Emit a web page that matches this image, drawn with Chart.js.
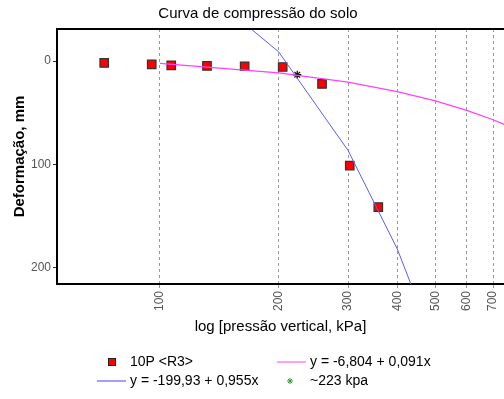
<!DOCTYPE html>
<html>
<head>
<meta charset="utf-8">
<script src="https://cdn.jsdelivr.net/npm/chart.js@4"></script>
<style>
    body { margin: 0; background: #fff; }
</style>
</head>
<body>
<canvas id="grafico" width="504" height="399"></canvas>
<script>
var FONTE = "'Liberation Sans', Arial, sans-serif";

// ensaio 10P <R3>: pressao vertical (kPa) x deformacao (mm)
var PRESSAO = [72.2, 95.3, 106.8, 131.6, 164, 204.8, 257.7, 303, 358];
var DEFORMACAO = [1.9, 3.2, 4.2, 4.8, 5.1, 5.8, 22.2, 101.3, 141.5];

// retas de ajuste, amostradas nas pressoes da grade
var PRESSAO_RETA = [100, 200, 300, 400, 500, 600, 700, 800];
var RETA_INICIAL = [2.3, 11.4, 20.5, 29.6, 38.7, 47.8, 56.9, 66.0];
var RETA_VIRGEM = [-104.4, -8.9, 86.6, 182.1, 277.6];

// ponto de encontro das retas (~223 kPa)
var PRE_ADENSAMENTO = [{ x: 223, y: 13.3 }];

var TICKS_X = [100, 200, 300, 400, 500, 600, 700];
var TICKS_Y = [0, 100, 200];

var Cores = { "vermelho": '#ff0000', 'magenta': '#ff40ff', 'azul': '#5c5cff', 'verde': '#2e9e2e' };

function pontos(xs, ys) {
    return ys.map(function (y, i) { return { x: xs[i], y: y }; });
}

// moldura superior e legenda em duas colunas
var legendaSolo = {
    id: 'legendaSolo',
    afterDraw: function (chart) {
        var ctx = chart.ctx;
        var area = chart.chartArea;
        var ds = chart.data.datasets;
        ctx.save();
        ctx.strokeStyle = '#000';
        ctx.lineWidth = 2;
        ctx.beginPath();
        ctx.moveTo(area.left, area.top);
        ctx.lineTo(area.right, area.top);
        ctx.stroke();

        ctx.font = '14px ' + FONTE;
        ctx.fillStyle = '#000';
        ctx.textBaseline = 'middle';

        // 10P <R3>
        ctx.fillStyle = Cores.vermelho;
        ctx.strokeStyle = '#222';
        ctx.lineWidth = 1;
        ctx.fillRect(108.5, 358.5, 7, 7);
        ctx.strokeRect(108.5, 358.5, 7, 7);
        ctx.fillStyle = '#000';
        ctx.fillText(ds[3].label, 130, 362);

        // reta inicial
        ctx.strokeStyle = '#ff80ff';
        ctx.lineWidth = 1.5;
        ctx.beginPath();
        ctx.moveTo(277, 362);
        ctx.lineTo(306, 362);
        ctx.stroke();
        ctx.fillText(ds[0].label, 310, 362);

        // reta virgem
        ctx.strokeStyle = '#8080ff';
        ctx.beginPath();
        ctx.moveTo(97, 381);
        ctx.lineTo(126, 381);
        ctx.stroke();
        ctx.fillText(ds[1].label, 130, 381);

        // asterisco
        ctx.strokeStyle = Cores.verde;
        ctx.lineWidth = 1;
        ctx.beginPath();
        ctx.moveTo(287, 381); ctx.lineTo(293, 381);
        ctx.moveTo(290, 378); ctx.lineTo(290, 384);
        ctx.moveTo(288, 379); ctx.lineTo(292, 383);
        ctx.moveTo(292, 379); ctx.lineTo(288, 383);
        ctx.stroke();
        ctx.fillText(ds[2].label, 310, 381);
        ctx.restore();
    }
};

var ctx = document.getElementById('grafico').getContext('2d');
window.Curva = new Chart(ctx, {
    type: 'scatter',
    data: {
        datasets: [{
            label: 'y = -6,804 + 0,091x',
            data: pontos(PRESSAO_RETA, RETA_INICIAL),
            showLine: true,
            borderColor: Cores.magenta,
            borderWidth: 1.3,
            pointRadius: 0,
            tension: 0
        },
        {
            label: 'y = -199,93 + 0,955x',
            data: pontos(PRESSAO_RETA, RETA_VIRGEM),
            showLine: true,
            borderColor: Cores.azul,
            borderWidth: 1,
            pointRadius: 0,
            tension: 0
        },
        {
            label: '~223 kpa',
            data: PRE_ADENSAMENTO,
            pointStyle: 'star',
            pointRadius: 4,
            borderColor: '#111',
            borderWidth: 1.3
        },
        {
            label: '10P <R3>',
            data: pontos(PRESSAO, DEFORMACAO),
            pointStyle: 'rect',
            pointRadius: 6,
            backgroundColor: Cores.vermelho,
            borderColor: '#333',
            borderWidth: 1.2
        }]
    },
    options: {
        responsive: false,
        animation: false,
        layout: {
            autoPadding: false,
            padding: { left: 12, right: 0, top: 0, bottom: 63 }
        },
        plugins: {
            legend: { display: false },
            tooltip: { enabled: false },
            title: {
                display: true,
                text: 'Curva de compressão do solo',
                color: '#000',
                font: { family: FONTE, size: 15, weight: 'normal', lineHeight: 1.2 },
                padding: { top: 5, bottom: 6 }
            }
        },
        scales: {
            x: {
                type: 'logarithmic',
                min: 54.8,
                max: 746,
                afterBuildTicks: function (scale) {
                    scale.ticks = TICKS_X.map(function (v) { return { value: v }; });
                },
                afterFit: function (scale) {
                    scale.height = 52;
                    // o grafico continua alem da borda direita
                    scale.paddingLeft = 0;
                    scale.paddingRight = 0;
                },
                grid: {
                    color: '#999',
                    lineWidth: 1,
                    tickLength: 4,
                    tickColor: '#999'
                },
                border: { display: true, color: '#000', width: 2, dash: [3, 3] },
                ticks: {
                    minRotation: 90,
                    maxRotation: 90,
                    autoSkip: false,
                    padding: 3,
                    color: '#555',
                    font: { family: FONTE, size: 12 },
                    callback: function (v) { return String(v); }
                },
                title: {
                    display: true,
                    text: 'log [pressão vertical, kPa]',
                    color: '#000',
                    font: { family: FONTE, size: 15 },
                    padding: 0
                }
            },
            y: {
                reverse: true,
                min: -31,
                max: 216,
                afterBuildTicks: function (scale) {
                    scale.ticks = TICKS_Y.map(function (v) { return { value: v }; });
                },
                afterFit: function (scale) { scale.width = 45; },
                grid: {
                    drawOnChartArea: false,
                    tickLength: 4,
                    tickColor: '#333'
                },
                border: { display: true, color: '#000', width: 2 },
                ticks: {
                    padding: 2,
                    color: '#555',
                    font: { family: FONTE, size: 12 }
                },
                title: {
                    display: true,
                    text: 'Deformação, mm',
                    color: '#000',
                    font: { family: FONTE, size: 15, weight: 'bold', lineHeight: 1 },
                    padding: 0
                }
            }
        }
    },
    plugins: [legendaSolo]
});
</script>
</body>
</html>
